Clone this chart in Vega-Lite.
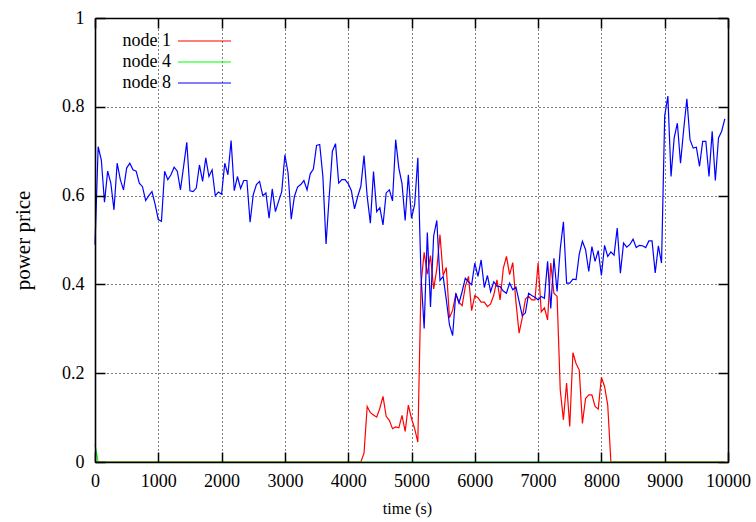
{
  "$schema": "https://vega.github.io/schema/vega-lite/v6.json",
  "autosize": {"type": "none"},
  "padding": {"left": 95, "top": 18, "right": 28, "bottom": 60},
  "width": 633,
  "height": 444,
  "background": "white",
  "config": {
    "view": {"stroke": null},
    "axis": {
      "labelFont": "Liberation Serif", "labelFontSize": 18, "labelColor": "#000",
      "titleFont": "Liberation Serif", "titleFontSize": 18, "titleFontWeight": "normal", "titleColor": "#000",
      "domainColor": "#000", "domainWidth": 1.6, "tickColor": "#000", "tickWidth": 1.5,
      "gridColor": "#000", "gridDash": [1, 3], "gridOpacity": 1, "gridWidth": 1,
      "labelFlush": false, "labelOverlap": false
    }
  },
  "data": {"values": [
    {"t":0,"node 1":0,"node 4":0.04,"node 8":0.49},
    {"t":50,"node 1":0,"node 4":0,"node 8":0.71},
    {"t":100,"node 1":0,"node 4":0,"node 8":0.68},
    {"t":150,"node 1":0,"node 4":0,"node 8":0.585},
    {"t":200,"node 1":0,"node 4":0,"node 8":0.655},
    {"t":250,"node 1":0,"node 4":0,"node 8":0.628},
    {"t":300,"node 1":0,"node 4":0,"node 8":0.568},
    {"t":350,"node 1":0,"node 4":0,"node 8":0.673},
    {"t":400,"node 1":0,"node 4":0,"node 8":0.636},
    {"t":450,"node 1":0,"node 4":0,"node 8":0.613},
    {"t":500,"node 1":0,"node 4":0,"node 8":0.662},
    {"t":550,"node 1":0,"node 4":0,"node 8":0.673},
    {"t":600,"node 1":0,"node 4":0,"node 8":0.658},
    {"t":650,"node 1":0,"node 4":0,"node 8":0.655},
    {"t":700,"node 1":0,"node 4":0,"node 8":0.628},
    {"t":750,"node 1":0,"node 4":0,"node 8":0.62},
    {"t":800,"node 1":0,"node 4":0,"node 8":0.589},
    {"t":850,"node 1":0,"node 4":0,"node 8":0.6},
    {"t":900,"node 1":0,"node 4":0,"node 8":0.609},
    {"t":950,"node 1":0,"node 4":0,"node 8":0.58},
    {"t":1000,"node 1":0,"node 4":0,"node 8":0.546},
    {"t":1050,"node 1":0,"node 4":0,"node 8":0.542},
    {"t":1100,"node 1":0,"node 4":0,"node 8":0.655},
    {"t":1150,"node 1":0,"node 4":0,"node 8":0.636},
    {"t":1200,"node 1":0,"node 4":0,"node 8":0.647},
    {"t":1250,"node 1":0,"node 4":0,"node 8":0.664},
    {"t":1300,"node 1":0,"node 4":0,"node 8":0.655},
    {"t":1350,"node 1":0,"node 4":0,"node 8":0.613},
    {"t":1400,"node 1":0,"node 4":0,"node 8":0.666},
    {"t":1450,"node 1":0,"node 4":0,"node 8":0.72},
    {"t":1500,"node 1":0,"node 4":0,"node 8":0.611},
    {"t":1550,"node 1":0,"node 4":0,"node 8":0.609},
    {"t":1600,"node 1":0,"node 4":0,"node 8":0.617},
    {"t":1650,"node 1":0,"node 4":0,"node 8":0.669},
    {"t":1700,"node 1":0,"node 4":0,"node 8":0.632},
    {"t":1750,"node 1":0,"node 4":0,"node 8":0.685},
    {"t":1800,"node 1":0,"node 4":0,"node 8":0.643},
    {"t":1850,"node 1":0,"node 4":0,"node 8":0.658},
    {"t":1900,"node 1":0,"node 4":0,"node 8":0.6},
    {"t":1950,"node 1":0,"node 4":0,"node 8":0.608},
    {"t":2000,"node 1":0,"node 4":0,"node 8":0.603},
    {"t":2050,"node 1":0,"node 4":0,"node 8":0.673},
    {"t":2100,"node 1":0,"node 4":0,"node 8":0.647},
    {"t":2150,"node 1":0,"node 4":0,"node 8":0.724},
    {"t":2200,"node 1":0,"node 4":0,"node 8":0.611},
    {"t":2250,"node 1":0,"node 4":0,"node 8":0.643},
    {"t":2300,"node 1":0,"node 4":0,"node 8":0.616},
    {"t":2350,"node 1":0,"node 4":0,"node 8":0.634},
    {"t":2400,"node 1":0,"node 4":0,"node 8":0.634},
    {"t":2450,"node 1":0,"node 4":0,"node 8":0.54},
    {"t":2500,"node 1":0,"node 4":0,"node 8":0.602},
    {"t":2550,"node 1":0,"node 4":0,"node 8":0.625},
    {"t":2600,"node 1":0,"node 4":0,"node 8":0.632},
    {"t":2650,"node 1":0,"node 4":0,"node 8":0.6},
    {"t":2700,"node 1":0,"node 4":0,"node 8":0.606},
    {"t":2750,"node 1":0,"node 4":0,"node 8":0.549},
    {"t":2800,"node 1":0,"node 4":0,"node 8":0.615},
    {"t":2850,"node 1":0,"node 4":0,"node 8":0.564},
    {"t":2900,"node 1":0,"node 4":0,"node 8":0.587},
    {"t":2950,"node 1":0,"node 4":0,"node 8":0.609},
    {"t":3000,"node 1":0,"node 4":0,"node 8":0.692},
    {"t":3050,"node 1":0,"node 4":0,"node 8":0.651},
    {"t":3100,"node 1":0,"node 4":0,"node 8":0.547},
    {"t":3150,"node 1":0,"node 4":0,"node 8":0.598},
    {"t":3200,"node 1":0,"node 4":0,"node 8":0.619},
    {"t":3250,"node 1":0,"node 4":0,"node 8":0.625},
    {"t":3300,"node 1":0,"node 4":0,"node 8":0.634},
    {"t":3350,"node 1":0,"node 4":0,"node 8":0.613},
    {"t":3400,"node 1":0,"node 4":0,"node 8":0.649},
    {"t":3450,"node 1":0,"node 4":0,"node 8":0.66},
    {"t":3500,"node 1":0,"node 4":0,"node 8":0.713},
    {"t":3550,"node 1":0,"node 4":0,"node 8":0.715},
    {"t":3600,"node 1":0,"node 4":0,"node 8":0.643},
    {"t":3650,"node 1":0,"node 4":0,"node 8":0.491},
    {"t":3700,"node 1":0,"node 4":0,"node 8":0.598},
    {"t":3750,"node 1":0,"node 4":0,"node 8":0.7},
    {"t":3800,"node 1":0,"node 4":0,"node 8":0.717},
    {"t":3850,"node 1":0,"node 4":0,"node 8":0.628},
    {"t":3900,"node 1":0,"node 4":0,"node 8":0.636},
    {"t":3950,"node 1":0,"node 4":0,"node 8":0.636},
    {"t":4000,"node 1":0,"node 4":0,"node 8":0.627},
    {"t":4050,"node 1":0,"node 4":0,"node 8":0.611},
    {"t":4100,"node 1":0,"node 4":0,"node 8":0.57},
    {"t":4150,"node 1":0,"node 4":0,"node 8":0.598},
    {"t":4200,"node 1":0,"node 4":0,"node 8":0.621},
    {"t":4250,"node 1":0.02,"node 4":0,"node 8":0.69},
    {"t":4300,"node 1":0.125,"node 4":0,"node 8":0.598},
    {"t":4350,"node 1":0.111,"node 4":0,"node 8":0.538},
    {"t":4400,"node 1":0.106,"node 4":0,"node 8":0.654},
    {"t":4450,"node 1":0.101,"node 4":0,"node 8":0.564},
    {"t":4500,"node 1":0.121,"node 4":0,"node 8":0.573},
    {"t":4550,"node 1":0.148,"node 4":0,"node 8":0.534},
    {"t":4600,"node 1":0.103,"node 4":0,"node 8":0.606},
    {"t":4650,"node 1":0.094,"node 4":0,"node 8":0.613},
    {"t":4700,"node 1":0.075,"node 4":0,"node 8":0.588},
    {"t":4750,"node 1":0.079,"node 4":0,"node 8":0.726},
    {"t":4800,"node 1":0.077,"node 4":0,"node 8":0.662},
    {"t":4850,"node 1":0.105,"node 4":0,"node 8":0.627},
    {"t":4900,"node 1":0.069,"node 4":0,"node 8":0.544},
    {"t":4950,"node 1":0.128,"node 4":0,"node 8":0.647},
    {"t":5000,"node 1":0.098,"node 4":0,"node 8":0.549},
    {"t":5050,"node 1":0.075,"node 4":0,"node 8":0.58},
    {"t":5100,"node 1":0.045,"node 4":0,"node 8":0.685},
    {"t":5150,"node 1":0.4,"node 4":0,"node 8":0.42},
    {"t":5200,"node 1":0.472,"node 4":0,"node 8":0.301},
    {"t":5250,"node 1":0.423,"node 4":0,"node 8":0.517},
    {"t":5300,"node 1":0.465,"node 4":0,"node 8":0.349},
    {"t":5350,"node 1":0.39,"node 4":0,"node 8":0.509},
    {"t":5400,"node 1":0.435,"node 4":0,"node 8":0.544},
    {"t":5450,"node 1":0.512,"node 4":0,"node 8":0.409},
    {"t":5500,"node 1":0.42,"node 4":0,"node 8":0.418},
    {"t":5550,"node 1":0.438,"node 4":0,"node 8":0.365},
    {"t":5600,"node 1":0.325,"node 4":0,"node 8":0.309},
    {"t":5650,"node 1":0.342,"node 4":0,"node 8":0.285},
    {"t":5700,"node 1":0.378,"node 4":0,"node 8":0.38},
    {"t":5750,"node 1":0.36,"node 4":0,"node 8":0.358},
    {"t":5800,"node 1":0.352,"node 4":0,"node 8":0.384},
    {"t":5850,"node 1":0.395,"node 4":0,"node 8":0.414},
    {"t":5900,"node 1":0.418,"node 4":0,"node 8":0.406},
    {"t":5950,"node 1":0.341,"node 4":0,"node 8":0.399},
    {"t":6000,"node 1":0.375,"node 4":0,"node 8":0.448},
    {"t":6050,"node 1":0.37,"node 4":0,"node 8":0.418},
    {"t":6100,"node 1":0.36,"node 4":0,"node 8":0.455},
    {"t":6150,"node 1":0.36,"node 4":0,"node 8":0.393},
    {"t":6200,"node 1":0.35,"node 4":0,"node 8":0.42},
    {"t":6250,"node 1":0.356,"node 4":0,"node 8":0.384},
    {"t":6300,"node 1":0.376,"node 4":0,"node 8":0.406},
    {"t":6350,"node 1":0.41,"node 4":0,"node 8":0.396},
    {"t":6400,"node 1":0.365,"node 4":0,"node 8":0.395},
    {"t":6450,"node 1":0.436,"node 4":0,"node 8":0.385},
    {"t":6500,"node 1":0.463,"node 4":0,"node 8":0.38},
    {"t":6550,"node 1":0.422,"node 4":0,"node 8":0.403},
    {"t":6600,"node 1":0.449,"node 4":0,"node 8":0.388},
    {"t":6650,"node 1":0.36,"node 4":0,"node 8":0.394},
    {"t":6700,"node 1":0.29,"node 4":0,"node 8":0.362},
    {"t":6750,"node 1":0.325,"node 4":0,"node 8":0.329},
    {"t":6800,"node 1":0.367,"node 4":0,"node 8":0.336},
    {"t":6850,"node 1":0.373,"node 4":0,"node 8":0.38},
    {"t":6900,"node 1":0.365,"node 4":0,"node 8":0.375},
    {"t":6950,"node 1":0.365,"node 4":0,"node 8":0.371},
    {"t":7000,"node 1":0.448,"node 4":0,"node 8":0.365},
    {"t":7050,"node 1":0.338,"node 4":0,"node 8":0.373},
    {"t":7100,"node 1":0.347,"node 4":0,"node 8":0.369},
    {"t":7150,"node 1":0.32,"node 4":0,"node 8":0.452},
    {"t":7200,"node 1":0.448,"node 4":0,"node 8":0.346},
    {"t":7250,"node 1":0.38,"node 4":0,"node 8":0.459},
    {"t":7300,"node 1":0.373,"node 4":0,"node 8":0.384},
    {"t":7350,"node 1":0.162,"node 4":0,"node 8":0.48},
    {"t":7400,"node 1":0.095,"node 4":0,"node 8":0.541},
    {"t":7450,"node 1":0.178,"node 4":0,"node 8":0.403},
    {"t":7500,"node 1":0.08,"node 4":0,"node 8":0.403},
    {"t":7550,"node 1":0.246,"node 4":0,"node 8":0.412},
    {"t":7600,"node 1":0.222,"node 4":0,"node 8":0.411},
    {"t":7650,"node 1":0.207,"node 4":0,"node 8":0.468},
    {"t":7700,"node 1":0.087,"node 4":0,"node 8":0.497},
    {"t":7750,"node 1":0.143,"node 4":0,"node 8":0.478},
    {"t":7800,"node 1":0.151,"node 4":0,"node 8":0.429},
    {"t":7850,"node 1":0.151,"node 4":0,"node 8":0.485},
    {"t":7900,"node 1":0.125,"node 4":0,"node 8":0.452},
    {"t":7950,"node 1":0.119,"node 4":0,"node 8":0.476},
    {"t":8000,"node 1":0.191,"node 4":0,"node 8":0.42},
    {"t":8050,"node 1":0.17,"node 4":0,"node 8":0.488},
    {"t":8100,"node 1":0.128,"node 4":0,"node 8":0.463},
    {"t":8150,"node 1":0,"node 4":0,"node 8":0.473},
    {"t":8200,"node 1":0,"node 4":0,"node 8":0.466},
    {"t":8250,"node 1":0,"node 4":0,"node 8":0.527},
    {"t":8300,"node 1":0,"node 4":0,"node 8":0.425},
    {"t":8350,"node 1":0,"node 4":0,"node 8":0.493},
    {"t":8400,"node 1":0,"node 4":0,"node 8":0.484},
    {"t":8450,"node 1":0,"node 4":0,"node 8":0.49},
    {"t":8500,"node 1":0,"node 4":0,"node 8":0.502},
    {"t":8550,"node 1":0,"node 4":0,"node 8":0.483},
    {"t":8600,"node 1":0,"node 4":0,"node 8":0.488},
    {"t":8650,"node 1":0,"node 4":0,"node 8":0.487},
    {"t":8700,"node 1":0,"node 4":0,"node 8":0.483},
    {"t":8750,"node 1":0,"node 4":0,"node 8":0.498},
    {"t":8800,"node 1":0,"node 4":0,"node 8":0.498},
    {"t":8850,"node 1":0,"node 4":0,"node 8":0.426},
    {"t":8900,"node 1":0,"node 4":0,"node 8":0.487},
    {"t":8950,"node 1":0,"node 4":0,"node 8":0.448},
    {"t":9000,"node 1":0,"node 4":0,"node 8":0.78},
    {"t":9050,"node 1":0,"node 4":0,"node 8":0.824},
    {"t":9100,"node 1":0,"node 4":0,"node 8":0.643},
    {"t":9150,"node 1":0,"node 4":0,"node 8":0.73},
    {"t":9200,"node 1":0,"node 4":0,"node 8":0.763},
    {"t":9250,"node 1":0,"node 4":0,"node 8":0.673},
    {"t":9300,"node 1":0,"node 4":0,"node 8":0.749},
    {"t":9350,"node 1":0,"node 4":0,"node 8":0.818},
    {"t":9400,"node 1":0,"node 4":0,"node 8":0.726},
    {"t":9450,"node 1":0,"node 4":0,"node 8":0.707},
    {"t":9500,"node 1":0,"node 4":0,"node 8":0.709},
    {"t":9550,"node 1":0,"node 4":0,"node 8":0.666},
    {"t":9600,"node 1":0,"node 4":0,"node 8":0.722},
    {"t":9650,"node 1":0,"node 4":0,"node 8":0.722},
    {"t":9700,"node 1":0,"node 4":0,"node 8":0.643},
    {"t":9750,"node 1":0,"node 4":0,"node 8":0.745},
    {"t":9800,"node 1":0,"node 4":0,"node 8":0.634},
    {"t":9850,"node 1":0,"node 4":0,"node 8":0.73},
    {"t":9900,"node 1":0,"node 4":0,"node 8":0.745},
    {"t":9950,"node 1":0,"node 4":0,"node 8":0.773}
  ]},
  "transform": [{"fold": ["node 1", "node 4", "node 8"], "as": ["series", "price"]}],
  "layer": [
    {
      "mark": {"type": "point", "opacity": 0},
      "encoding": {
        "x": {"field": "t", "type": "quantitative", "scale": {"domain": [0, 10000], "nice": false},
          "axis": {"orient": "top", "values": [0,1000,2000,3000,4000,5000,6000,7000,8000,9000,10000], "labels": false, "title": null, "grid": true, "tickSize": -10, "zindex": 0}},
        "y": {"field": "price", "type": "quantitative", "scale": {"domain": [0, 1], "nice": false},
          "axis": {"orient": "right", "values": [0,0.2,0.4,0.6,0.8,1], "labels": false, "title": null, "grid": true, "tickSize": -10, "zindex": 0}}
      }
    },
    {
      "mark": {"type": "line", "strokeWidth": 1.2, "clip": false},
      "encoding": {
        "x": {"field": "t", "type": "quantitative", "scale": {"domain": [0, 10000], "nice": false},
          "axis": {"orient": "bottom", "values": [0,1000,2000,3000,4000,5000,6000,7000,8000,9000,10000], "format": "d", "grid": false, "tickSize": -10, "labelPadding": 20, "title": "time (s)", "titlePadding": 10, "titleFontSize": 16, "titleX": 312, "zindex": 1}},
        "y": {"field": "price", "type": "quantitative", "scale": {"domain": [0, 1], "nice": false},
          "axis": {"orient": "left", "values": [0,0.2,0.4,0.6,0.8,1], "format": "~g", "grid": false, "tickSize": -10, "labelPadding": 21, "title": "power price", "titlePadding": 28, "titleFontSize": 21, "zindex": 1}},
        "color": {"field": "series", "type": "nominal",
          "scale": {"domain": ["node 1", "node 4", "node 8"], "range": ["#ff0000", "#00ff00", "#0000ff"]},
          "legend": {"orient": "none", "legendX": 100.5, "legendY": 14, "title": null, "symbolType": "M-5.3,0H5.3", "symbolSize": 100, "symbolStrokeWidth": 1.2, "labelAlign": "right", "labelOffset": -42.5, "labelFont": "Liberation Serif", "labelFontSize": 18, "labelColor": "#000", "rowPadding": 3, "padding": 0}}
      }
    }
  ],
  "resolve": {"axis": {"x": "independent", "y": "independent"}}
}
